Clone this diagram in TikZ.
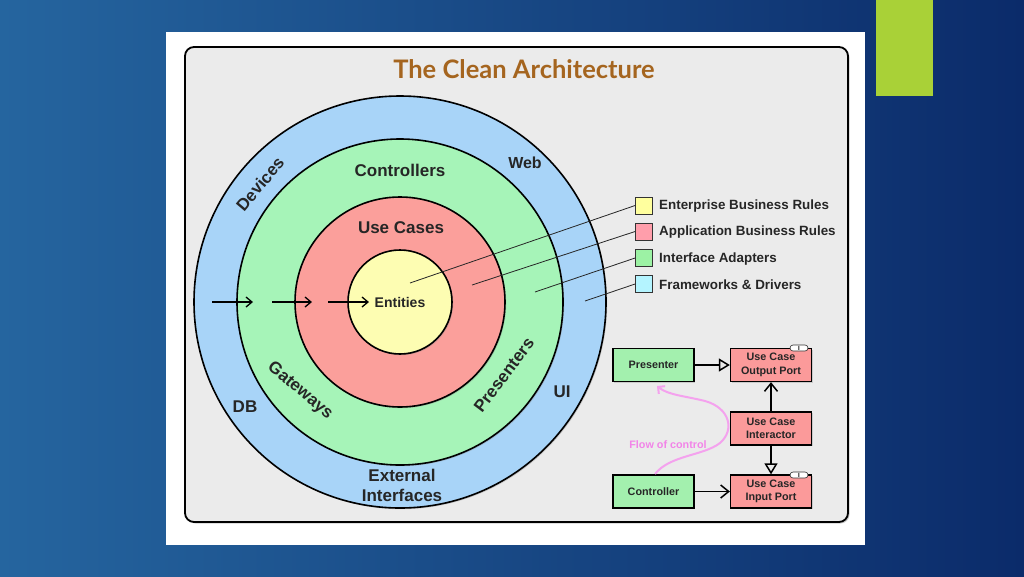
\documentclass[tikz,border=0pt]{standalone}
\usepackage{fontspec}
\setmainfont{Liberation Sans}
\newfontfamily\titlefont{Lato}
\usetikzlibrary{arrows.meta,shadows,shapes.misc}
\definecolor{bgL}{HTML}{25659F}
\definecolor{bgR}{HTML}{0B2B6A}
\definecolor{barGreen}{HTML}{A9D137}
\definecolor{frameGray}{HTML}{EBEBEB}
\definecolor{titleBrown}{HTML}{A5651F}
\definecolor{cBlue}{HTML}{A8D4F8}
\definecolor{cGreen}{HTML}{A6F4B8}
\definecolor{cRed}{HTML}{FB9F9B}
\definecolor{cYellow}{HTML}{FDFDB2}
\definecolor{lYellow}{HTML}{FFFF9E}
\definecolor{lRed}{HTML}{FF9EAB}
\definecolor{lGreen}{HTML}{9CF2A4}
\definecolor{lCyan}{HTML}{B4F4FF}
\definecolor{bGreen}{HTML}{A3F0AE}
\definecolor{bRed}{HTML}{FB9A9A}
\definecolor{flowPink}{HTML}{F4A2EE}
\definecolor{flowText}{HTML}{F284E8}
\begin{document}
\begin{tikzpicture}[x=1pt,y=-1pt,
  ring/.style={circle,draw=black,line width=1.6pt,inner sep=0pt,
    drop shadow={shadow xshift=1.2pt,shadow yshift=-1.2pt,opacity=.35}},
  lab/.style={font=\bfseries\fontsize{17}{20}\selectfont,text=black!85,inner sep=0pt},
  legbox/.style={draw=black!80,line width=0.8pt,minimum size=17pt,inner sep=0pt},
  legtext/.style={anchor=west,font=\bfseries\fontsize{13.4}{16}\selectfont,text=black!85,inner sep=0pt},
  legline/.style={draw=black!85,line width=0.8pt},
  flowarrow/.style={line width=1.3pt,-{Straight Barb[length=6pt,width=10pt]}},
  box/.style={draw=black,line width=1.3pt,minimum width=81pt,minimum height=33pt,inner sep=0pt,
    align=center,font=\bfseries\fontsize{10.8}{13.5}\selectfont,text=black!85,
    drop shadow={shadow xshift=1pt,shadow yshift=-1pt,opacity=.3}},
  usearr/.style={line width=1.5pt,-{Straight Barb[length=8pt,width=13pt]}},
  implarr/.style={line width=1.5pt,-{Triangle[open,length=11pt,width=13pt]}},
  iface/.style={rounded rectangle,fill=white,draw=black!80,line width=0.6pt,inner sep=0pt,
    minimum width=18pt,minimum height=6pt,font=\bfseries\fontsize{6}{6}\selectfont}
]
\useasboundingbox (0,0) rectangle (1024,576);
% background
\shade[left color=bgL,right color=bgR] (0,0) rectangle (1024,576);
\fill[barGreen] (876,0) rectangle (933,96);
\fill[white] (166,32) rectangle (865,545);
\draw[line width=1.8pt,rounded corners=9pt,fill=frameGray,
  drop shadow={shadow xshift=1.5pt,shadow yshift=-1.5pt,opacity=.4}] (185,47) rectangle (848,522);
\node[font=\titlefont\bfseries\fontsize{25.5}{30}\selectfont,text=titleBrown] (title) at (524,69) {The Clean Architecture};

% circles
\node[ring,fill=cBlue,minimum size=412pt] (fd) at (400,302) {};
\node[ring,fill=cGreen,minimum size=326pt] (ia) at (400,302) {};
\node[ring,fill=cRed,minimum size=210pt] (ab) at (400,302) {};
\node[ring,fill=cYellow,minimum size=104pt] (eb) at (400,302) {};

% circle labels
\node[lab] (controllers) at (400,170) {Controllers};
\node[lab] (usecases) at (401,228) {Use Cases};
\node[lab,font=\bfseries\fontsize{14}{16}\selectfont] (entities) at (400,302) {Entities};
\node[lab,font=\bfseries\fontsize{16}{18}\selectfont] (web) at (525,163) {Web};
\node[lab,rotate=50] (devices) at (260,184) {Devices};
\node[lab,rotate=-40] (gateways) at (300,391) {Gateways};
\node[lab,rotate=53] (presenters) at (504,375) {Presenters};
\node[lab] (db) at (245,407) {DB};
\node[lab] (ui) at (562,392) {UI};
\node[lab] (ext) at (402,475) {External};
\node[lab] (intf) at (402,495) {Interfaces};

% dependency arrows
\coordinate (a1s) at (212,302); \coordinate (a1e) at (253,302);
\coordinate (a2s) at (272,302); \coordinate (a2e) at (312,302);
\coordinate (a3s) at (328,302); \coordinate (a3e) at (369,302);
\draw[flowarrow] (a1s) -- (a1e);
\draw[flowarrow] (a2s) -- (a2e);
\draw[flowarrow] (a3s) -- (a3e);

% legend
\node[legbox,fill=lYellow] (lE) at (644,205.5) {};
\node[legbox,fill=lRed] (lA) at (644,231.5) {};
\node[legbox,fill=lGreen] (lI) at (644,258) {};
\node[legbox,fill=lCyan] (lF) at (644,284) {};
\node[legtext] (tE) at (659,206.5) {Enterprise Business Rules};
\node[legtext] (tA) at (659,232.5) {Application Business Rules};
\node[legtext] (tI) at (659,259) {Interface Adapters};
\node[legtext] (tF) at (659,285) {Frameworks \& Drivers};
\coordinate (pE) at (410,283);
\coordinate (pA) at (472,285);
\coordinate (pI) at (535,292);
\coordinate (pF) at (585,301);
\draw[legline] (pE) -- (lE.west);
\draw[legline] (pA) -- (lA.west);
\draw[legline] (pI) -- (lI.west);
\draw[legline] (pF) -- (lF.west);

% flow diagram
\node[box,fill=bGreen] (pres) at (653.5,365) {Presenter};
\node[box,fill=bRed] (outp) at (771,365) {Use Case\\Output Port};
\node[box,fill=bRed] (inter) at (771,428.5) {Use Case\\Interactor};
\node[box,fill=bGreen] (ctrl) at (653.5,491.5) {Controller};
\node[box,fill=bRed] (inp) at (771,491.5) {Use Case\\Input Port};
\node[iface] (oi) at (799,348) {I};
\node[iface] (ii) at (799,475) {I};
\draw[implarr] (pres) -- (outp);
\draw[usearr] (inter) -- (outp);
\draw[implarr] (inter) -- (inp);
\draw[usearr] (ctrl) -- (inp);

\coordinate (fs) at (655,474);
\coordinate (fe) at (657,386);
\draw[flowPink,line width=2pt,-{Straight Barb[length=5pt,width=10pt]}]
  (fs) .. controls (670,455) and (703,456) .. (720,443)
       .. controls (735,430) and (730,408) .. (705,401)
       .. controls (685,396) and (668,395) .. (fe);
\node[font=\bfseries\fontsize{10.8}{13}\selectfont,text=flowText,inner sep=0pt] (flow) at (668,445) {Flow of control};
\end{tikzpicture}
\end{document}
